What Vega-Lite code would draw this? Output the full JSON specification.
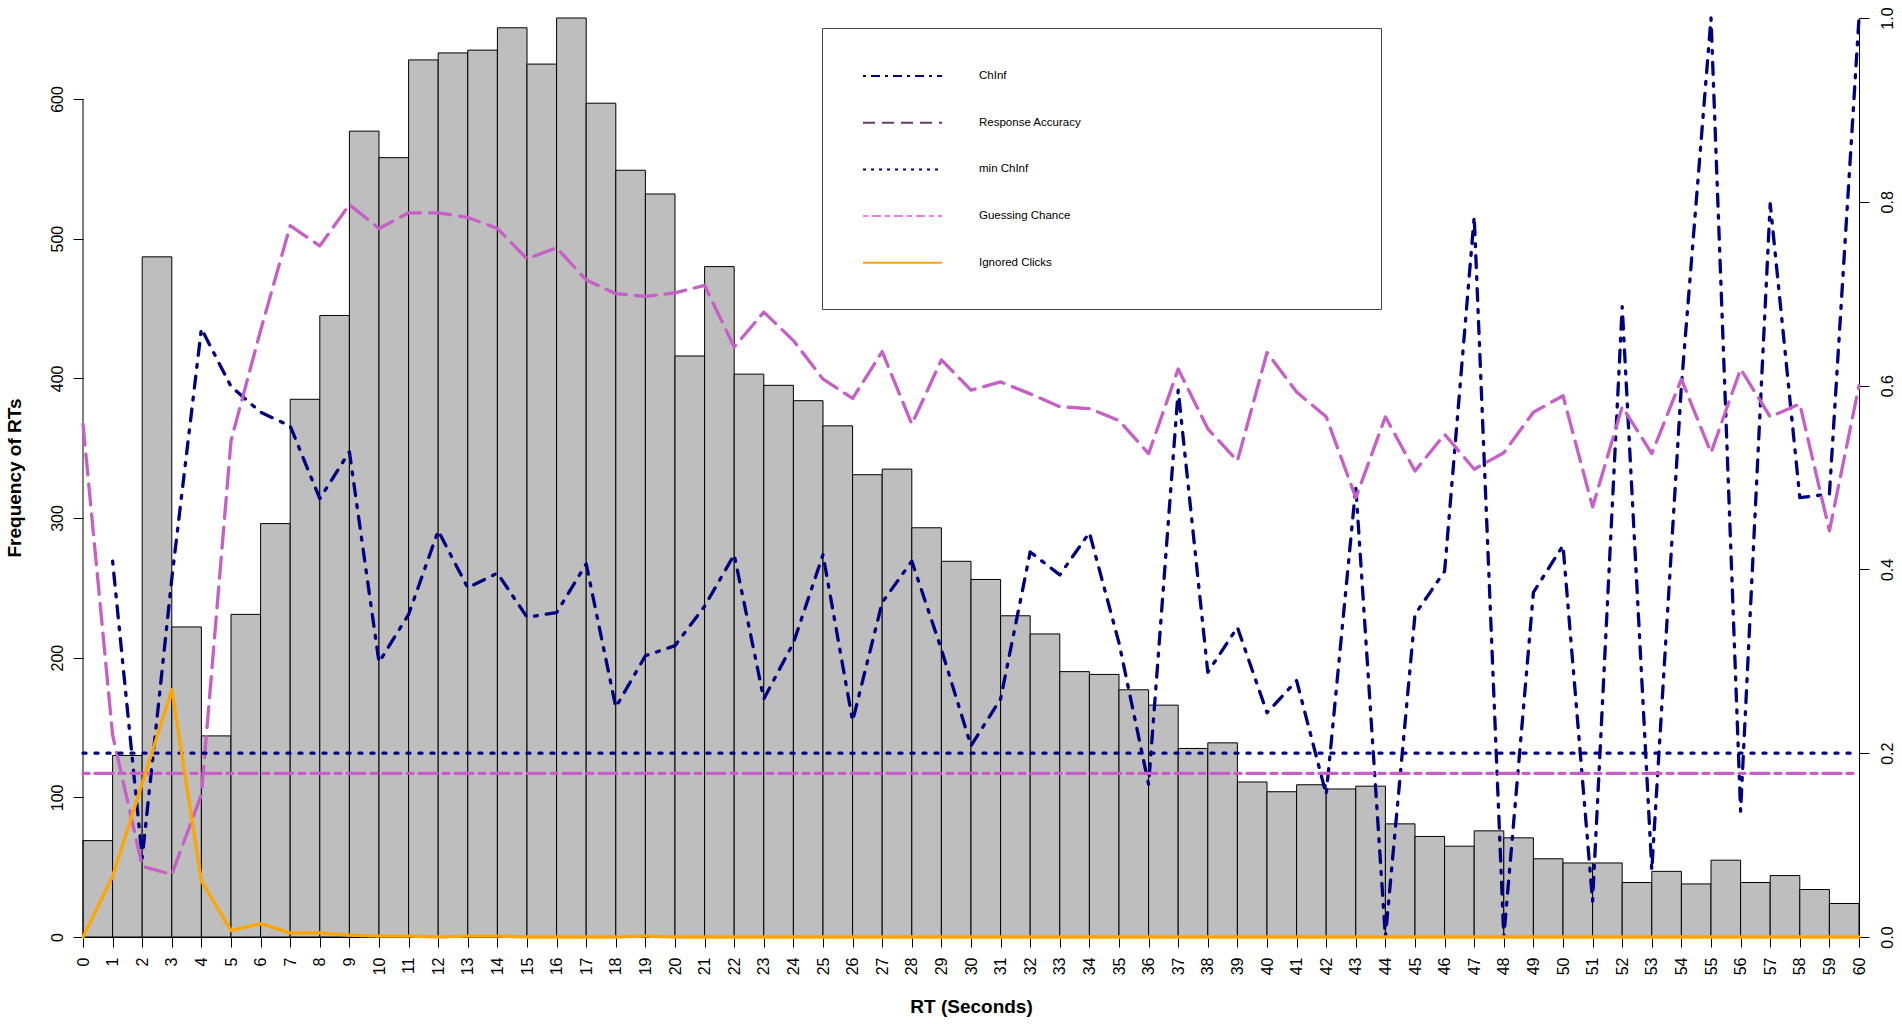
{
  "$schema": "https://vega.github.io/schema/vega-lite/v6.json",
  "width": 1776,
  "height": 919,
  "autosize": "none",
  "padding": {"left": 83, "top": 18, "right": 43, "bottom": 87},
  "background": "white",
  "config": {
    "view": {"stroke": null},
    "font": "Liberation Sans",
    "axis": {
      "grid": false,
      "domainColor": "black",
      "tickColor": "black",
      "labelColor": "black",
      "titleColor": "black",
      "labelFont": "Liberation Sans",
      "titleFont": "Liberation Sans",
      "labelFontSize": 16,
      "titleFontSize": 19,
      "titleFontWeight": "bold",
      "tickSize": 10
    }
  },
  "datasets": {
    "bars": [
      {"start": 0, "end": 1, "count": 69}, {"start": 1, "end": 2, "count": 130}, {"start": 2, "end": 3, "count": 487},
      {"start": 3, "end": 4, "count": 222}, {"start": 4, "end": 5, "count": 144}, {"start": 5, "end": 6, "count": 231},
      {"start": 6, "end": 7, "count": 296}, {"start": 7, "end": 8, "count": 385}, {"start": 8, "end": 9, "count": 445},
      {"start": 9, "end": 10, "count": 577}, {"start": 10, "end": 11, "count": 558}, {"start": 11, "end": 12, "count": 628},
      {"start": 12, "end": 13, "count": 633}, {"start": 13, "end": 14, "count": 635}, {"start": 14, "end": 15, "count": 651},
      {"start": 15, "end": 16, "count": 625}, {"start": 16, "end": 17, "count": 658}, {"start": 17, "end": 18, "count": 597},
      {"start": 18, "end": 19, "count": 549}, {"start": 19, "end": 20, "count": 532}, {"start": 20, "end": 21, "count": 416},
      {"start": 21, "end": 22, "count": 480}, {"start": 22, "end": 23, "count": 403}, {"start": 23, "end": 24, "count": 395},
      {"start": 24, "end": 25, "count": 384}, {"start": 25, "end": 26, "count": 366}, {"start": 26, "end": 27, "count": 331},
      {"start": 27, "end": 28, "count": 335}, {"start": 28, "end": 29, "count": 293}, {"start": 29, "end": 30, "count": 269},
      {"start": 30, "end": 31, "count": 256}, {"start": 31, "end": 32, "count": 230}, {"start": 32, "end": 33, "count": 217},
      {"start": 33, "end": 34, "count": 190}, {"start": 34, "end": 35, "count": 188}, {"start": 35, "end": 36, "count": 177},
      {"start": 36, "end": 37, "count": 166}, {"start": 37, "end": 38, "count": 135}, {"start": 38, "end": 39, "count": 139},
      {"start": 39, "end": 40, "count": 111}, {"start": 40, "end": 41, "count": 104}, {"start": 41, "end": 42, "count": 109},
      {"start": 42, "end": 43, "count": 106}, {"start": 43, "end": 44, "count": 108}, {"start": 44, "end": 45, "count": 81},
      {"start": 45, "end": 46, "count": 72}, {"start": 46, "end": 47, "count": 65}, {"start": 47, "end": 48, "count": 76},
      {"start": 48, "end": 49, "count": 71}, {"start": 49, "end": 50, "count": 56}, {"start": 50, "end": 51, "count": 53},
      {"start": 51, "end": 52, "count": 53}, {"start": 52, "end": 53, "count": 39}, {"start": 53, "end": 54, "count": 47},
      {"start": 54, "end": 55, "count": 38}, {"start": 55, "end": 56, "count": 55}, {"start": 56, "end": 57, "count": 39},
      {"start": 57, "end": 58, "count": 44}, {"start": 58, "end": 59, "count": 34}, {"start": 59, "end": 60, "count": 24}
    ],
    "lines": [
      {"rt": 1, "series": "ChInf", "value": 0.409}, {"rt": 2, "series": "ChInf", "value": 0.086}, {"rt": 3, "series": "ChInf", "value": 0.39},
      {"rt": 4, "series": "ChInf", "value": 0.662}, {"rt": 5, "series": "ChInf", "value": 0.599}, {"rt": 6, "series": "ChInf", "value": 0.571},
      {"rt": 7, "series": "ChInf", "value": 0.556}, {"rt": 8, "series": "ChInf", "value": 0.477}, {"rt": 9, "series": "ChInf", "value": 0.528},
      {"rt": 10, "series": "ChInf", "value": 0.299}, {"rt": 11, "series": "ChInf", "value": 0.351}, {"rt": 12, "series": "ChInf", "value": 0.442},
      {"rt": 13, "series": "ChInf", "value": 0.38}, {"rt": 14, "series": "ChInf", "value": 0.396}, {"rt": 15, "series": "ChInf", "value": 0.348},
      {"rt": 16, "series": "ChInf", "value": 0.353}, {"rt": 17, "series": "ChInf", "value": 0.406}, {"rt": 18, "series": "ChInf", "value": 0.25},
      {"rt": 19, "series": "ChInf", "value": 0.306}, {"rt": 20, "series": "ChInf", "value": 0.317}, {"rt": 21, "series": "ChInf", "value": 0.36},
      {"rt": 22, "series": "ChInf", "value": 0.416}, {"rt": 23, "series": "ChInf", "value": 0.259}, {"rt": 24, "series": "ChInf", "value": 0.32},
      {"rt": 25, "series": "ChInf", "value": 0.416}, {"rt": 26, "series": "ChInf", "value": 0.235}, {"rt": 27, "series": "ChInf", "value": 0.364},
      {"rt": 28, "series": "ChInf", "value": 0.409}, {"rt": 29, "series": "ChInf", "value": 0.313}, {"rt": 30, "series": "ChInf", "value": 0.208},
      {"rt": 31, "series": "ChInf", "value": 0.259}, {"rt": 32, "series": "ChInf", "value": 0.419}, {"rt": 33, "series": "ChInf", "value": 0.394},
      {"rt": 34, "series": "ChInf", "value": 0.44}, {"rt": 35, "series": "ChInf", "value": 0.32}, {"rt": 36, "series": "ChInf", "value": 0.166},
      {"rt": 37, "series": "ChInf", "value": 0.595}, {"rt": 38, "series": "ChInf", "value": 0.288}, {"rt": 39, "series": "ChInf", "value": 0.337},
      {"rt": 40, "series": "ChInf", "value": 0.244}, {"rt": 41, "series": "ChInf", "value": 0.279}, {"rt": 42, "series": "ChInf", "value": 0.155},
      {"rt": 43, "series": "ChInf", "value": 0.49}, {"rt": 44, "series": "ChInf", "value": 0.0}, {"rt": 45, "series": "ChInf", "value": 0.351},
      {"rt": 46, "series": "ChInf", "value": 0.398}, {"rt": 47, "series": "ChInf", "value": 0.784}, {"rt": 48, "series": "ChInf", "value": 0.0},
      {"rt": 49, "series": "ChInf", "value": 0.375}, {"rt": 50, "series": "ChInf", "value": 0.426}, {"rt": 51, "series": "ChInf", "value": 0.039},
      {"rt": 52, "series": "ChInf", "value": 0.686}, {"rt": 53, "series": "ChInf", "value": 0.073}, {"rt": 54, "series": "ChInf", "value": 0.6},
      {"rt": 55, "series": "ChInf", "value": 1.0}, {"rt": 56, "series": "ChInf", "value": 0.137}, {"rt": 57, "series": "ChInf", "value": 0.798},
      {"rt": 58, "series": "ChInf", "value": 0.478}, {"rt": 59, "series": "ChInf", "value": 0.482}, {"rt": 60, "series": "ChInf", "value": 1.0},

      {"rt": 0, "series": "Response Accuracy", "value": 0.558}, {"rt": 1, "series": "Response Accuracy", "value": 0.22},
      {"rt": 2, "series": "Response Accuracy", "value": 0.077}, {"rt": 3, "series": "Response Accuracy", "value": 0.068},
      {"rt": 4, "series": "Response Accuracy", "value": 0.155}, {"rt": 5, "series": "Response Accuracy", "value": 0.54},
      {"rt": 6, "series": "Response Accuracy", "value": 0.66}, {"rt": 7, "series": "Response Accuracy", "value": 0.774},
      {"rt": 8, "series": "Response Accuracy", "value": 0.752}, {"rt": 9, "series": "Response Accuracy", "value": 0.797},
      {"rt": 10, "series": "Response Accuracy", "value": 0.771}, {"rt": 11, "series": "Response Accuracy", "value": 0.788},
      {"rt": 12, "series": "Response Accuracy", "value": 0.788}, {"rt": 13, "series": "Response Accuracy", "value": 0.783},
      {"rt": 14, "series": "Response Accuracy", "value": 0.771}, {"rt": 15, "series": "Response Accuracy", "value": 0.738},
      {"rt": 16, "series": "Response Accuracy", "value": 0.75}, {"rt": 17, "series": "Response Accuracy", "value": 0.715},
      {"rt": 18, "series": "Response Accuracy", "value": 0.7}, {"rt": 19, "series": "Response Accuracy", "value": 0.697},
      {"rt": 20, "series": "Response Accuracy", "value": 0.701}, {"rt": 21, "series": "Response Accuracy", "value": 0.709},
      {"rt": 22, "series": "Response Accuracy", "value": 0.642}, {"rt": 23, "series": "Response Accuracy", "value": 0.68},
      {"rt": 24, "series": "Response Accuracy", "value": 0.649}, {"rt": 25, "series": "Response Accuracy", "value": 0.607},
      {"rt": 26, "series": "Response Accuracy", "value": 0.586}, {"rt": 27, "series": "Response Accuracy", "value": 0.637},
      {"rt": 28, "series": "Response Accuracy", "value": 0.558}, {"rt": 29, "series": "Response Accuracy", "value": 0.628},
      {"rt": 30, "series": "Response Accuracy", "value": 0.595}, {"rt": 31, "series": "Response Accuracy", "value": 0.604},
      {"rt": 32, "series": "Response Accuracy", "value": 0.591}, {"rt": 33, "series": "Response Accuracy", "value": 0.577},
      {"rt": 34, "series": "Response Accuracy", "value": 0.575}, {"rt": 35, "series": "Response Accuracy", "value": 0.562},
      {"rt": 36, "series": "Response Accuracy", "value": 0.526}, {"rt": 37, "series": "Response Accuracy", "value": 0.618},
      {"rt": 38, "series": "Response Accuracy", "value": 0.553}, {"rt": 39, "series": "Response Accuracy", "value": 0.518},
      {"rt": 40, "series": "Response Accuracy", "value": 0.636}, {"rt": 41, "series": "Response Accuracy", "value": 0.593},
      {"rt": 42, "series": "Response Accuracy", "value": 0.566}, {"rt": 43, "series": "Response Accuracy", "value": 0.478},
      {"rt": 44, "series": "Response Accuracy", "value": 0.566}, {"rt": 45, "series": "Response Accuracy", "value": 0.507},
      {"rt": 46, "series": "Response Accuracy", "value": 0.547}, {"rt": 47, "series": "Response Accuracy", "value": 0.509},
      {"rt": 48, "series": "Response Accuracy", "value": 0.527}, {"rt": 49, "series": "Response Accuracy", "value": 0.571},
      {"rt": 50, "series": "Response Accuracy", "value": 0.589}, {"rt": 51, "series": "Response Accuracy", "value": 0.468},
      {"rt": 52, "series": "Response Accuracy", "value": 0.577}, {"rt": 53, "series": "Response Accuracy", "value": 0.526},
      {"rt": 54, "series": "Response Accuracy", "value": 0.607}, {"rt": 55, "series": "Response Accuracy", "value": 0.527},
      {"rt": 56, "series": "Response Accuracy", "value": 0.618}, {"rt": 57, "series": "Response Accuracy", "value": 0.566},
      {"rt": 58, "series": "Response Accuracy", "value": 0.58}, {"rt": 59, "series": "Response Accuracy", "value": 0.442},
      {"rt": 60, "series": "Response Accuracy", "value": 0.6},

      {"rt": 0, "series": "min ChInf", "value": 0.2}, {"rt": 60, "series": "min ChInf", "value": 0.2},
      {"rt": 0, "series": "Guessing Chance", "value": 0.178}, {"rt": 60, "series": "Guessing Chance", "value": 0.178},

      {"rt": 0, "series": "Ignored Clicks", "value": 0.0}, {"rt": 1, "series": "Ignored Clicks", "value": 0.066},
      {"rt": 2, "series": "Ignored Clicks", "value": 0.167}, {"rt": 3, "series": "Ignored Clicks", "value": 0.269},
      {"rt": 4, "series": "Ignored Clicks", "value": 0.061}, {"rt": 5, "series": "Ignored Clicks", "value": 0.007},
      {"rt": 6, "series": "Ignored Clicks", "value": 0.0145}, {"rt": 7, "series": "Ignored Clicks", "value": 0.0044},
      {"rt": 8, "series": "Ignored Clicks", "value": 0.0044}, {"rt": 9, "series": "Ignored Clicks", "value": 0.002},
      {"rt": 10, "series": "Ignored Clicks", "value": 0.001}, {"rt": 11, "series": "Ignored Clicks", "value": 0.001},
      {"rt": 12, "series": "Ignored Clicks", "value": 0.0}, {"rt": 13, "series": "Ignored Clicks", "value": 0.001},
      {"rt": 14, "series": "Ignored Clicks", "value": 0.001}, {"rt": 15, "series": "Ignored Clicks", "value": 0.0},
      {"rt": 16, "series": "Ignored Clicks", "value": 0.0}, {"rt": 17, "series": "Ignored Clicks", "value": 0.0},
      {"rt": 18, "series": "Ignored Clicks", "value": 0.0}, {"rt": 19, "series": "Ignored Clicks", "value": 0.001},
      {"rt": 20, "series": "Ignored Clicks", "value": 0.0}, {"rt": 21, "series": "Ignored Clicks", "value": 0.0},
      {"rt": 22, "series": "Ignored Clicks", "value": 0.0}, {"rt": 23, "series": "Ignored Clicks", "value": 0.0},
      {"rt": 24, "series": "Ignored Clicks", "value": 0.0}, {"rt": 25, "series": "Ignored Clicks", "value": 0.0},
      {"rt": 26, "series": "Ignored Clicks", "value": 0.0}, {"rt": 27, "series": "Ignored Clicks", "value": 0.0},
      {"rt": 28, "series": "Ignored Clicks", "value": 0.0}, {"rt": 29, "series": "Ignored Clicks", "value": 0.0},
      {"rt": 30, "series": "Ignored Clicks", "value": 0.0}, {"rt": 31, "series": "Ignored Clicks", "value": 0.0},
      {"rt": 32, "series": "Ignored Clicks", "value": 0.0}, {"rt": 33, "series": "Ignored Clicks", "value": 0.0},
      {"rt": 34, "series": "Ignored Clicks", "value": 0.0}, {"rt": 35, "series": "Ignored Clicks", "value": 0.0},
      {"rt": 36, "series": "Ignored Clicks", "value": 0.0}, {"rt": 37, "series": "Ignored Clicks", "value": 0.0},
      {"rt": 38, "series": "Ignored Clicks", "value": 0.0}, {"rt": 39, "series": "Ignored Clicks", "value": 0.0},
      {"rt": 40, "series": "Ignored Clicks", "value": 0.0}, {"rt": 41, "series": "Ignored Clicks", "value": 0.0},
      {"rt": 42, "series": "Ignored Clicks", "value": 0.0}, {"rt": 43, "series": "Ignored Clicks", "value": 0.0},
      {"rt": 44, "series": "Ignored Clicks", "value": 0.0}, {"rt": 45, "series": "Ignored Clicks", "value": 0.0},
      {"rt": 46, "series": "Ignored Clicks", "value": 0.0}, {"rt": 47, "series": "Ignored Clicks", "value": 0.0},
      {"rt": 48, "series": "Ignored Clicks", "value": 0.0}, {"rt": 49, "series": "Ignored Clicks", "value": 0.0},
      {"rt": 50, "series": "Ignored Clicks", "value": 0.0}, {"rt": 51, "series": "Ignored Clicks", "value": 0.0},
      {"rt": 52, "series": "Ignored Clicks", "value": 0.0}, {"rt": 53, "series": "Ignored Clicks", "value": 0.0},
      {"rt": 54, "series": "Ignored Clicks", "value": 0.0}, {"rt": 55, "series": "Ignored Clicks", "value": 0.0},
      {"rt": 56, "series": "Ignored Clicks", "value": 0.0}, {"rt": 57, "series": "Ignored Clicks", "value": 0.0},
      {"rt": 58, "series": "Ignored Clicks", "value": 0.0}, {"rt": 59, "series": "Ignored Clicks", "value": 0.0},
      {"rt": 60, "series": "Ignored Clicks", "value": 0.0}
    ]
  },
  "layer": [
    {
      "layer": [
        {
          "data": {"name": "bars"},
          "mark": {"type": "rect", "fill": "#BEBEBE", "stroke": "black", "strokeWidth": 1},
          "encoding": {
            "x": {
              "field": "start", "type": "quantitative",
              "scale": {"domain": [0, 60], "nice": false, "zero": false},
              "axis": {
                "values": [0,1,2,3,4,5,6,7,8,9,10,11,12,13,14,15,16,17,18,19,20,21,22,23,24,25,26,27,28,29,30,31,32,33,34,35,36,37,38,39,40,41,42,43,44,45,46,47,48,49,50,51,52,53,54,55,56,57,58,59,60],
                "labelAngle": 270, "labelAlign": "right", "labelBaseline": "middle", "labelPadding": 10,
                "labelOverlap": false, "labelFlush": false,
                "title": "RT (Seconds)", "titleY": 75.6, "titleBaseline": "alphabetic"
              }
            },
            "x2": {"field": "end"},
            "y": {
              "field": "count", "type": "quantitative",
              "scale": {"domain": [0, 658], "nice": false},
              "axis": {
                "values": [0, 100, 200, 300, 400, 500, 600],
                "domain": false, "labelAngle": 270, "labelAlign": "center", "labelBaseline": "alphabetic", "labelPadding": 11,
                "title": "Frequency of RTs", "titleAngle": 270, "titleAlign": "center", "titleBaseline": "alphabetic",
                "titleX": -63, "titleY": 459.5
              }
            },
            "y2": {"datum": 0}
          }
        },
        {
          "data": {"values": [{}]},
          "mark": {"type": "rule", "color": "black", "strokeWidth": 1},
          "encoding": {
            "x": {
              "datum": 0, "type": "quantitative",
              "axis": {
                "values": [0,1,2,3,4,5,6,7,8,9,10,11,12,13,14,15,16,17,18,19,20,21,22,23,24,25,26,27,28,29,30,31,32,33,34,35,36,37,38,39,40,41,42,43,44,45,46,47,48,49,50,51,52,53,54,55,56,57,58,59,60],
                "labelAngle": 270, "labelAlign": "right", "labelBaseline": "middle", "labelPadding": 10,
                "labelOverlap": false, "labelFlush": false,
                "title": "RT (Seconds)", "titleY": 75.6, "titleBaseline": "alphabetic"
              }
            },
            "y": {
              "datum": 0, "type": "quantitative",
              "axis": {
                "values": [0, 100, 200, 300, 400, 500, 600],
                "domain": false, "labelAngle": 270, "labelAlign": "center", "labelBaseline": "alphabetic", "labelPadding": 11,
                "title": "Frequency of RTs", "titleAngle": 270, "titleAlign": "center", "titleBaseline": "alphabetic",
                "titleX": -63, "titleY": 459.5
              }
            },
            "y2": {"datum": 600}
          }
        }
      ]
    },
    {
      "data": {"name": "lines"},
      "mark": {"type": "line", "strokeWidth": 3.3, "strokeCap": "round", "strokeJoin": "round"},
      "encoding": {
        "x": {
          "field": "rt", "type": "quantitative",
          "axis": {
            "values": [0,1,2,3,4,5,6,7,8,9,10,11,12,13,14,15,16,17,18,19,20,21,22,23,24,25,26,27,28,29,30,31,32,33,34,35,36,37,38,39,40,41,42,43,44,45,46,47,48,49,50,51,52,53,54,55,56,57,58,59,60],
            "labelAngle": 270, "labelAlign": "right", "labelBaseline": "middle", "labelPadding": 10,
            "labelOverlap": false, "labelFlush": false,
            "title": "RT (Seconds)", "titleY": 75.6, "titleBaseline": "alphabetic"
          }
        },
        "y": {
          "field": "value", "type": "quantitative",
          "scale": {"domain": [0, 1], "nice": false},
          "axis": {
            "orient": "right", "values": [0, 0.2, 0.4, 0.6, 0.8, 1], "format": ".1f",
            "labelAngle": 270, "labelAlign": "center", "labelBaseline": "top", "labelPadding": 10,
            "title": null
          }
        },
        "color": {
          "field": "series", "type": "nominal",
          "scale": {
            "domain": ["ChInf", "Response Accuracy", "min ChInf", "Guessing Chance", "Ignored Clicks"],
            "range": ["#000080", "#C65FC6", "#000080", "#C65FC6", "#FFA500"]
          },
          "legend": null
        },
        "strokeDash": {
          "field": "series", "type": "nominal",
          "scale": {
            "domain": ["ChInf", "Response Accuracy", "min ChInf", "Guessing Chance", "Ignored Clicks"],
            "range": [[3, 9, 12, 9], [21, 9], [3, 9], [6, 6, 18, 6], [1, 0]]
          },
          "legend": null
        }
      }
    },
    {
      "data": {"name": "lines"},
      "transform": [{"filter": "datum.rt === 60"}],
      "mark": {"type": "line", "strokeWidth": 2},
      "encoding": {
        "x": {
          "field": "rt", "type": "quantitative",
          "axis": {
            "values": [0,1,2,3,4,5,6,7,8,9,10,11,12,13,14,15,16,17,18,19,20,21,22,23,24,25,26,27,28,29,30,31,32,33,34,35,36,37,38,39,40,41,42,43,44,45,46,47,48,49,50,51,52,53,54,55,56,57,58,59,60],
            "labelAngle": 270, "labelAlign": "right", "labelBaseline": "middle", "labelPadding": 10,
            "labelOverlap": false, "labelFlush": false,
            "title": "RT (Seconds)", "titleY": 75.6, "titleBaseline": "alphabetic"
          }
        },
        "y": {
          "field": "value", "type": "quantitative",
          "scale": {"domain": [0, 1], "nice": false},
          "axis": null
        },
        "color": {
          "field": "series", "type": "nominal",
          "scale": {
            "domain": ["ChInf", "Response Accuracy", "min ChInf", "Guessing Chance", "Ignored Clicks"],
            "range": ["#000080", "#6B3B6B", "#000080", "#EE7EEE", "#FFA500"]
          },
          "legend": {
            "orient": "none",
            "legendX": 739,
            "legendY": 10,
            "title": null,
            "direction": "vertical",
            "padding": 40,
            "strokeColor": "#444444",
            "fillColor": "white",
            "rowPadding": 32.7,
            "symbolType": "M-1,0H10.3",
            "symbolSize": 196,
            "symbolStrokeWidth": 2,
            "symbolFillColor": "transparent",
            "labelOffset": 101,
            "labelFont": "Liberation Sans",
            "labelFontSize": 11.5,
            "labelColor": "black",
            "labelLimit": 1000,
            "labelExpr": "pad(datum.label, 98, '\u00a0') + '\u200b'",
            "encode": {
              "symbols": {
                "update": {
                  "fill": {"value": "transparent"},
                  "strokeWidth": {"value": 2},
                  "strokeDash": [
                    {"test": "datum.value === 'ChInf'", "value": [3, 5, 9, 5]},
                    {"test": "datum.value === 'Response Accuracy'", "value": [12, 7]},
                    {"test": "datum.value === 'min ChInf'", "value": [3, 5]},
                    {"test": "datum.value === 'Guessing Chance'", "value": [5, 4, 9, 4]},
                    {"value": [1, 0]}
                  ]
                }
              }
            }
          }
        }
      }
    }
  ],
  "resolve": {"scale": {"y": "independent", "color": "independent"}}
}
